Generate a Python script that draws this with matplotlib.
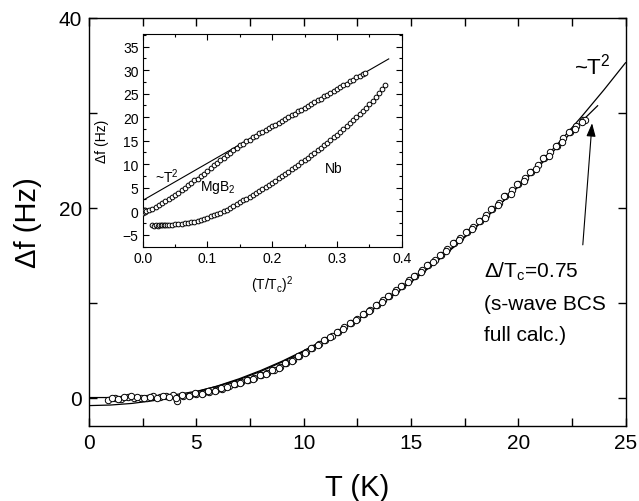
import numpy as np
import matplotlib
matplotlib.use('Agg')
import matplotlib.pyplot as plt
from matplotlib.ticker import MultipleLocator

plt.rcParams['font.family'] = ['Liberation Sans', 'DejaVu Sans']

# Datos del panel principal: dos barridos de Δf(T)
T_a = [0.9, 1.2, 1.5, 1.8, 2.1, 2.4, 2.7, 3.0, 3.3, 3.6, 3.9, 4.1, 4.4, 4.7, 5.0,
       5.3, 5.6, 5.9, 6.2, 6.5, 6.8, 7.1, 7.4, 7.7, 8.0, 8.3, 8.6, 8.9, 9.2, 9.5,
       9.8, 10.1, 10.4, 10.7, 11.0, 11.3, 11.6, 11.9, 12.2, 12.5, 12.8, 13.1, 13.4,
       13.7, 14.0, 14.3, 14.6, 14.9, 15.2, 15.5, 15.8, 16.1, 16.4, 16.7, 17.0, 17.3,
       17.6, 17.9, 18.2, 18.5, 18.8, 19.1, 19.4, 19.7, 20.0, 20.3, 20.6, 20.9, 21.2,
       21.5, 21.8, 22.1, 22.4, 22.7, 23.0, 23.1]
df_a = [-0.25, -0.05, -0.15, 0.05, -0.1, 0.0, -0.05, 0.15, 0.05, 0.2, 0.25, -0.35,
        0.15, 0.25, 0.35, 0.5, 0.6, 0.8, 0.95, 1.2, 1.4, 1.6, 1.85, 2.1, 2.35, 2.6,
        2.95, 3.25, 3.6, 3.95, 4.35, 4.75, 5.2, 5.6, 6.05, 6.45, 6.95, 7.4, 7.85, 8.3,
        8.8, 9.25, 9.75, 10.25, 10.75, 11.3, 11.8, 12.35, 12.85, 13.4, 13.95, 14.5,
        15.05, 15.65, 16.25, 16.8, 17.4, 18.0, 18.65, 19.25, 19.9, 20.55, 21.2, 21.85,
        22.5, 23.15, 23.8, 24.5, 25.2, 25.9, 26.55, 27.3, 28.0, 28.65, 29.3, 29.3]

T_b = [1.05, 1.35, 1.65, 1.95, 2.25, 2.55, 2.85, 3.15, 3.45, 3.75, 4.05, 4.35, 4.65,
       4.95, 5.25, 5.55, 5.85, 6.15, 6.45, 6.75, 7.05, 7.35, 7.65, 7.95, 8.25, 8.55,
       8.85, 9.15, 9.45, 9.75, 10.05, 10.35, 10.65, 10.95, 11.25, 11.55, 11.85, 12.15,
       12.45, 12.75, 13.05, 13.35, 13.65, 13.95, 14.25, 14.55, 14.85, 15.15, 15.45,
       15.75, 16.05, 16.35, 16.65, 16.95, 17.25, 17.55, 17.85, 18.15, 18.45, 18.75,
       19.05, 19.35, 19.65, 19.95, 20.25, 20.55, 20.85, 21.15, 21.45, 21.75, 22.05,
       22.35, 22.65, 22.95]
df_b = [0.0, -0.2, 0.1, 0.15, 0.05, -0.1, 0.1, 0.0, 0.2, 0.1, -0.1, 0.3, 0.2, 0.45,
        0.4, 0.7, 0.7, 1.05, 1.1, 1.45, 1.5, 1.9, 1.95, 2.4, 2.5, 2.95, 3.15, 3.6,
        3.85, 4.35, 4.65, 5.2, 5.5, 6.05, 6.35, 6.95, 7.25, 7.85, 8.15, 8.8, 9.1, 9.75,
        10.05, 10.75, 11.1, 11.8, 12.15, 12.85, 13.2, 13.95, 14.3, 15.05, 15.4, 16.25,
        16.55, 17.4, 17.75, 18.65, 18.95, 19.9, 20.25, 21.2, 21.5, 22.5, 22.8, 23.8,
        24.1, 25.2, 25.5, 26.55, 26.9, 28.0, 28.3, 29.0]

# Curva ~T^2 (leida cada 1 K)
T_cuad = list(range(0, 26))
df_cuad = [-0.85, -0.79, -0.62, -0.33, 0.07, 0.60, 1.23, 1.98, 2.85, 3.83, 4.93,
           6.14, 7.47, 8.92, 10.48, 12.16, 13.95, 15.85, 17.88, 20.02, 22.27, 24.64,
           27.13, 29.73, 32.44, 35.28]

# Curva BCS onda s (calculo completo)
T_bcs = [0, 1, 2, 3, 4, 5, 6, 7, 8, 9, 10, 11, 12, 13, 14, 15, 16, 17, 18, 19, 20,
         21, 22, 23, 23.7]
df_bcs = [0.0, 0.0, 0.02, 0.1, 0.3, 0.65, 1.2, 1.9, 2.75, 3.75, 4.85, 6.1, 7.45,
          8.95, 10.55, 12.25, 14.05, 15.95, 17.95, 20.05, 22.2, 24.45, 26.8, 29.2, 30.75]

# Inset: MgB2 y Nb contra (T/Tc)^2
x_mgb2 = [0.0, 0.001, 0.002, 0.003, 0.004, 0.005, 0.010, 0.015, 0.020, 0.025, 0.030,
          0.035, 0.040, 0.045, 0.050, 0.055, 0.060, 0.065, 0.070, 0.075, 0.080, 0.085,
          0.090, 0.095, 0.100, 0.105, 0.110, 0.115, 0.120, 0.125, 0.130, 0.135, 0.140,
          0.145, 0.150, 0.155, 0.160, 0.165, 0.170, 0.175, 0.180, 0.185, 0.190, 0.195,
          0.200, 0.205, 0.210, 0.215, 0.220, 0.225, 0.230, 0.235, 0.240, 0.245, 0.250,
          0.255, 0.260, 0.265, 0.270, 0.275, 0.280, 0.285, 0.290, 0.295, 0.300, 0.305,
          0.310, 0.315, 0.320, 0.325, 0.330, 0.335, 0.340, 0.343]
y_mgb2 = [0.0, -0.3, 0.3, -0.1, 0.2, 0.1, 0.35, 0.5, 0.95, 1.25, 1.75, 2.1, 2.65, 3.0,
          3.55, 3.95, 4.55, 4.95, 5.55, 5.95, 6.55, 6.95, 7.6, 8.0, 8.65, 9.1, 9.75,
          10.2, 10.85, 11.3, 11.95, 12.4, 13.05, 13.45, 14.05, 14.4, 14.95, 15.25, 15.75,
          16.05, 16.55, 16.85, 17.35, 17.6, 18.05, 18.35, 18.85, 19.15, 19.65, 19.95,
          20.45, 20.75, 21.25, 21.55, 22.05, 22.35, 22.85, 23.15, 23.65, 23.95, 24.45,
          24.75, 25.25, 25.55, 26.05, 26.35, 26.85, 27.15, 27.65, 27.95, 28.45, 28.75,
          29.25, 29.4]

x_nb = [0.015, 0.018, 0.020, 0.023, 0.025, 0.028, 0.030, 0.033, 0.035, 0.038, 0.040,
        0.045, 0.050, 0.055, 0.060, 0.065, 0.070, 0.075, 0.080, 0.085, 0.090, 0.095,
        0.100, 0.105, 0.110, 0.115, 0.120, 0.125, 0.130, 0.135, 0.140, 0.145, 0.150,
        0.155, 0.160, 0.165, 0.170, 0.175, 0.180, 0.185, 0.190, 0.195, 0.200, 0.205,
        0.210, 0.215, 0.220, 0.225, 0.230, 0.235, 0.240, 0.245, 0.250, 0.255, 0.260,
        0.265, 0.270, 0.275, 0.280, 0.285, 0.290, 0.295, 0.300, 0.305, 0.310, 0.315,
        0.320, 0.325, 0.330, 0.335, 0.340, 0.345, 0.350, 0.355, 0.360, 0.365, 0.370,
        0.375]
y_nb = [-3.0, -3.05, -3.0, -3.05, -3.0, -3.0, -2.95, -2.95, -2.95, -2.9, -2.9, -2.85,
        -2.8, -2.7, -2.65, -2.55, -2.45, -2.3, -2.2, -2.0, -1.8, -1.6, -1.35, -1.1,
        -0.85, -0.6, -0.3, 0.0, 0.35, 0.7, 1.1, 1.5, 1.9, 2.3, 2.7, 3.1, 3.5, 3.9, 4.35,
        4.75, 5.2, 5.6, 6.05, 6.5, 7.0, 7.45, 7.95, 8.4, 8.9, 9.4, 9.9, 10.4, 10.9, 11.4,
        11.9, 12.4, 12.95, 13.5, 14.0, 14.55, 15.1, 15.7, 16.3, 16.9, 17.5, 18.1, 18.7,
        19.35, 20.0, 20.65, 21.3, 22.05, 22.8, 23.55, 24.3, 25.1, 25.9, 26.9]

# Recta ~T^2 del inset
x_recta = [0.0, 0.38]
y_recta = [2.3, 32.4]

fig = plt.figure(figsize=(6.39, 5.02), dpi=100)

# ---- Panel principal ----
ax = fig.add_axes([0.1393, 0.1494, 0.8396, 0.8128])
ax.plot(T_cuad, df_cuad, color='black', linewidth=0.9, zorder=2)
ax.plot(T_bcs, df_bcs, color='black', linewidth=0.9, zorder=2)
ax.plot(T_a, df_a, 'o', markersize=4.6, markerfacecolor='white',
        markeredgecolor='black', markeredgewidth=0.7, zorder=3)
ax.plot(T_b, df_b, 'o', markersize=4.6, markerfacecolor='white',
        markeredgecolor='black', markeredgewidth=0.7, zorder=3)

ax.set_xlim(0, 25)
ax.set_ylim(-3, 40)
ax.xaxis.set_major_locator(MultipleLocator(5))
ax.xaxis.set_minor_locator(MultipleLocator(2.5))
ax.yaxis.set_major_locator(MultipleLocator(20))
ax.yaxis.set_minor_locator(MultipleLocator(10))
ax.tick_params(which='both', direction='in', top=True, right=True, width=1.0)
ax.tick_params(which='major', length=6, labelsize=15, pad=5)
ax.tick_params(which='minor', length=6)
for s in ax.spines.values():
    s.set_linewidth(1.0)
ax.set_xlabel('T (K)', fontsize=21, labelpad=15)
ax.set_ylabel('Δf (Hz)', fontsize=21, labelpad=12)

ax.text(22.6, 35.0, '~T$^\\mathregular{2}$', fontsize=16, va='center', ha='left')
ax.text(18.4, 13.4, 'Δ/T$_\\mathregular{c}$=0.75', fontsize=15, va='center', ha='left')
ax.text(18.4, 9.9, '(s-wave BCS', fontsize=15, va='center', ha='left')
ax.text(18.4, 6.6, 'full calc.)', fontsize=15, va='center', ha='left')
ax.annotate('', xy=(23.45, 29.2), xytext=(23.0, 15.8),
            arrowprops=dict(arrowstyle='-|>,head_length=0.8,head_width=0.28',
                            color='black', linewidth=0.8))

# ---- Inset ----
ins = fig.add_axes([0.2233, 0.506, 0.4053, 0.4243])
ins.plot(x_recta, y_recta, color='black', linewidth=0.8, zorder=2)
ins.plot(x_mgb2, y_mgb2, 'o', markersize=3.4, markerfacecolor='white',
         markeredgecolor='black', markeredgewidth=0.7, zorder=3)
ins.plot(x_nb, y_nb, 'o', markersize=3.4, markerfacecolor='white',
         markeredgecolor='black', markeredgewidth=0.7, zorder=3)
ins.set_xlim(0, 0.4)
ins.set_ylim(-7.6, 37.7)
ins.xaxis.set_major_locator(MultipleLocator(0.1))
ins.xaxis.set_minor_locator(MultipleLocator(0.05))
ins.yaxis.set_major_locator(MultipleLocator(5))
ins.yaxis.set_minor_locator(MultipleLocator(2.5))
ins.tick_params(which='both', direction='in', top=True, right=True, width=0.8)
ins.tick_params(which='major', length=4, labelsize=10, pad=3)
ins.tick_params(which='minor', length=2.5)
for s in ins.spines.values():
    s.set_linewidth(0.8)
ins.set_xlabel('(T/T$_\\mathregular{c}$)$^\\mathregular{2}$', fontsize=10, labelpad=6)
ins.set_ylabel('Δf (Hz)', fontsize=10, labelpad=10)
ins.text(0.019, 7.6, '~T$^\\mathregular{2}$', fontsize=10, va='center', ha='left')
ins.text(0.089, 5.2, 'MgB$_\\mathregular{2}$', fontsize=10, va='center', ha='left')
ins.text(0.282, 9.3, 'Nb', fontsize=10, va='center', ha='left')

plt.savefig('out.png', dpi=100)
